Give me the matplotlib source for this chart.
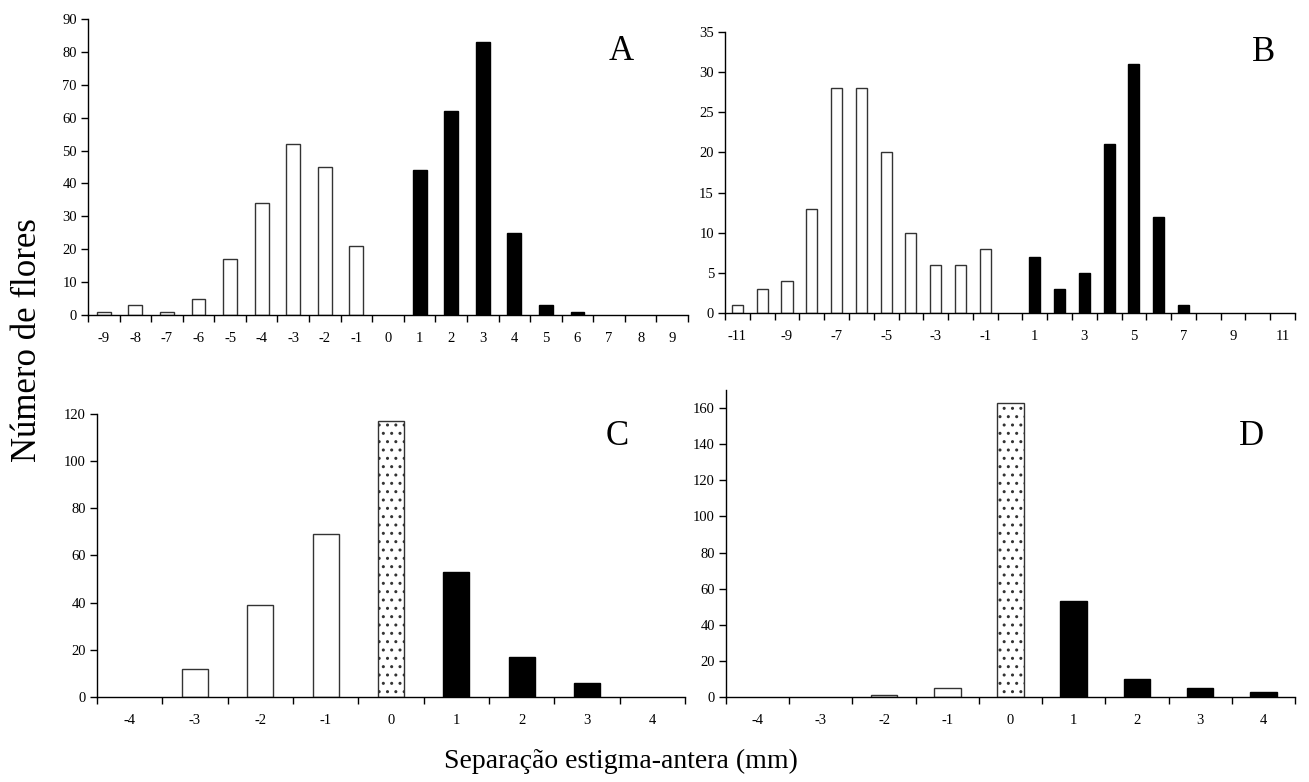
import matplotlib.pyplot as plt
import numpy as np

plt.rcParams['font.family'] = ['Liberation Serif', 'DejaVu Serif']

# Dados (número de flores por classe de separação)
x_a = list(range(-9, 10))
y_a = [1, 3, 1, 5, 17, 34, 52, 45, 21, 0, 44, 62, 83, 25, 3, 1, 0, 0, 0]

x_b = list(range(-11, 12))
y_b = [1, 3, 4, 13, 28, 28, 20, 10, 6, 6, 8, 0, 7, 3, 5, 21, 31, 12, 1, 0, 0, 0, 0]

x_c = list(range(-4, 5))
y_c = [0, 12, 39, 69, 117, 53, 17, 6, 0]

x_d = list(range(-4, 5))
y_d = [0, 0, 1, 5, 163, 53, 10, 5, 3]


def desenhar(ax, xs, ys, largura, ymax, yticks, xlabels, letra, letra_pos):
    xs = np.array(xs)
    ys = np.array(ys)
    tem = ys > 0
    neg = (xs < 0) & tem
    pos = (xs > 0) & tem
    zero = (xs == 0) & tem
    ax.bar(xs[neg], ys[neg], width=largura, color='white', edgecolor='#333333', linewidth=1)
    ax.bar(xs[pos], ys[pos], width=largura, color='black', edgecolor='black', linewidth=1)
    if zero.any():
        ax.bar(xs[zero], ys[zero], width=largura, color='white', edgecolor='#333333',
               linewidth=1, hatch='..')
    ax.set_xlim(xs.min() - 0.5, xs.max() + 0.5)
    ax.set_ylim(0, ymax)
    ax.set_yticks(yticks)
    ax.set_xticks(np.arange(xs.min() - 0.5, xs.max() + 1.0, 1.0))
    ax.set_xticklabels([])
    ax.set_xticks(xlabels, minor=True)
    ax.set_xticklabels([str(v) for v in xlabels], minor=True)
    ax.tick_params(axis='x', which='major', length=5, width=1, direction='out')
    ax.tick_params(axis='x', which='minor', length=0, pad=12, labelsize=10.5)
    ax.tick_params(axis='y', length=5, width=1, labelsize=10.5, pad=3)
    for s in ['top', 'right']:
        ax.spines[s].set_visible(False)
    for s in ['left', 'bottom']:
        ax.spines[s].set_linewidth(1)
    ax.text(letra_pos[0], letra_pos[1], letra, transform=ax.transAxes, fontsize=25,
            ha='center', va='center')


fig = plt.figure(figsize=(13.09, 7.82), dpi=100)

ax_a = fig.add_axes([0.0672, 0.5972, 0.4584, 0.3785])
desenhar(ax_a, x_a, y_a, 0.44, 90, range(0, 91, 10), x_a, 'A', (0.888, 0.889))

ax_b = fig.add_axes([0.5539, 0.5997, 0.4354, 0.3593])
desenhar(ax_b, x_b, y_b, 0.45, 35, range(0, 36, 5), list(range(-11, 12, 2)), 'B', (0.944, 0.929))

ax_c = fig.add_axes([0.0741, 0.1087, 0.4492, 0.3619])
desenhar(ax_c, x_c, y_c, 0.40, 120, range(0, 121, 20), x_c, 'C', (0.884, 0.919))

ax_d = fig.add_axes([0.5546, 0.1087, 0.4347, 0.3926])
desenhar(ax_d, x_d, y_d, 0.42, 170, range(0, 161, 20), x_d, 'D', (0.923, 0.847))

fig.text(0.021, 0.565, 'Número de flores', rotation=90, fontsize=25, ha='center', va='center')
fig.text(0.474, 0.026, 'Separação estigma-antera (mm)', fontsize=20, ha='center', va='center')

fig.savefig('out.png', dpi=100)
